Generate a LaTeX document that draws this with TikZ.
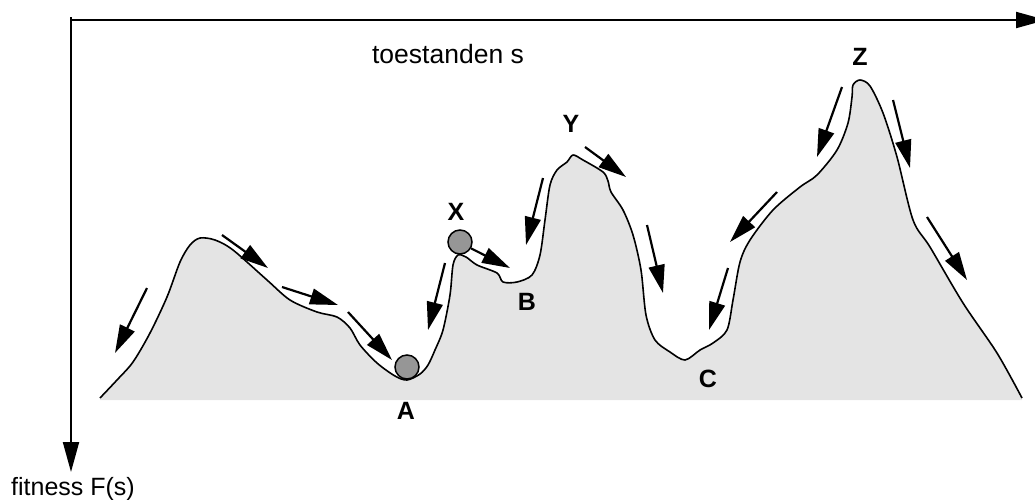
\documentclass[tikz,border=0pt]{standalone}
\usepackage{fontspec}
\setmainfont{Liberation Sans}
\usetikzlibrary{arrows.meta}
\begin{document}
\begin{tikzpicture}[x=1pt,y=-1pt,
  axis/.style={line width=2pt,-{Triangle[length=30pt,width=16pt]}},
  slide/.style={line width=2.2pt,-{Triangle[length=28pt,width=16pt]}},
  land/.style={line width=1.6pt,line join=round},
  ball/.style={circle,draw=black,line width=1.5pt,fill=ballgray,minimum size=24pt,inner sep=0pt},
  txt/.style={font=\fontsize{25}{29}\selectfont,inner sep=0pt},
  lbl/.style={font=\fontsize{25}{29}\selectfont\bfseries,inner sep=0pt}]
\definecolor{landgray}{RGB}{228,228,228}
\definecolor{ballgray}{RGB}{150,150,150}
\useasboundingbox (0,0) rectangle (1035,499);
% landscape
\fill[landgray] plot[smooth,tension=0.5] coordinates {(100,398) (117,380) (133,362) (150,333) (167,297) (180,262) (190,245) (200,238) (215,240) (233,250) (267,280) (290,300) (317,312) (337,317) (350,328) (360,345) (377,363) (395,376) (407,380) (420,374) (428,365) (435,350) (443,330) (450,295) (453,265) (458,255) (466,257) (477,265) (497,273) (503,282) (517,282) (532,275) (540,255) (545,220) (550,185) (557,170) (567,162) (573,155) (583,160) (603,172) (608,181) (611,192) (623,210) (633,235) (641,270) (646,315) (655,340) (670,352) (685,360) (700,350) (713,343) (727,330) (733,300) (740,262) (750,240) (773,210) (800,187) (817,175) (837,150) (848,123) (852,97) (853,85) (860,80) (870,86) (883,113) (897,157) (913,220) (930,247) (963,303) (997,353) (1022,398)} -- (1022,400) -- (100,400) -- cycle;
\draw[land] plot[smooth,tension=0.5] coordinates {(100,398) (117,380) (133,362) (150,333) (167,297) (180,262) (190,245) (200,238) (215,240) (233,250) (267,280) (290,300) (317,312) (337,317) (350,328) (360,345) (377,363) (395,376) (407,380) (420,374) (428,365) (435,350) (443,330) (450,295) (453,265) (458,255) (466,257) (477,265) (497,273) (503,282) (517,282) (532,275) (540,255) (545,220) (550,185) (557,170) (567,162) (573,155) (583,160) (603,172) (608,181) (611,192) (623,210) (633,235) (641,270) (646,315) (655,340) (670,352) (685,360) (700,350) (713,343) (727,330) (733,300) (740,262) (750,240) (773,210) (800,187) (817,175) (837,150) (848,123) (852,97) (853,85) (860,80) (870,86) (883,113) (897,157) (913,220) (930,247) (963,303) (997,353) (1022,398)};
% axes
\coordinate (xstart) at (70,20);
\coordinate (ystart) at (71,17);
\coordinate (xend) at (1046,20);
\coordinate (yend) at (71,472);
\draw[axis] (xstart) -- (xend);
\draw[axis] (ystart) -- (yend);
\node[txt,font=\fontsize{26.5}{30}\selectfont,anchor=base] (xl) at (448,63) {toestanden s};
\node[txt,anchor=base west] (yl) at (11,495) {fitness F(s)};
% balls
\node[ball] (ballA) at (407,367) {};
\node[ball] (ballX) at (460,242) {};
% labels
\node[lbl] (A) at (406,411) {A};
\node[lbl] (B) at (527,302) {B};
\node[lbl] (C) at (708,379) {C};
\node[lbl] (X) at (456,212) {X};
\node[lbl] (Y) at (571,124) {Y};
\node[lbl] (Z) at (860,57) {Z};
% sliding arrows
\draw[slide] (147,288) -- (115,353);
\draw[slide] (222,235) -- (268,268);
\draw[slide] (282,287) -- (338,305);
\draw[slide] (348,312) -- (392,360);
\draw[slide] (445,263) -- (428,330);
\draw[slide] (ballX.-30) -- (510,268);
\draw[slide] (543,178) -- (526,245);
\draw[slide] (585,147) -- (626,177);
\draw[slide] (647,225) -- (663,293);
\draw[slide] (842,87) -- (817,157);
\draw[slide] (893,100) -- (910,168);
\draw[slide] (777,192) -- (730,242);
\draw[slide] (728,268) -- (709,330);
\draw[slide] (927,217) -- (967,280);
\end{tikzpicture}
\end{document}
